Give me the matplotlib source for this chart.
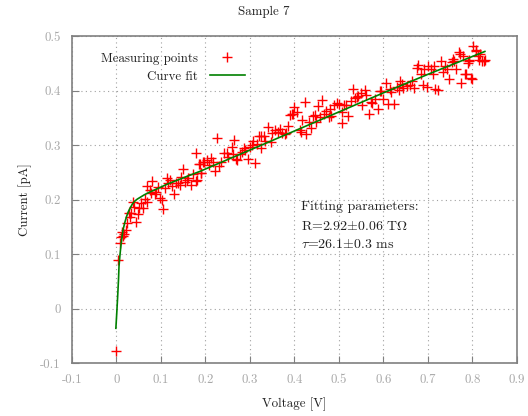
import numpy as np
import matplotlib
matplotlib.use('Agg')
import matplotlib.pyplot as plt
from matplotlib.ticker import FuncFormatter

plt.rcParams['font.family'] = ['cmr10', 'DejaVu Serif']
plt.rcParams['mathtext.fontset'] = 'cm'
plt.rcParams['axes.unicode_minus'] = False

volt = [-0.001, 0.004, 0.008, 0.010, 0.015, 0.018, 0.021, 0.025, 0.028, 0.034,
        0.040, 0.045, 0.049, 0.055, 0.060, 0.070, 0.068, 0.079, 0.081, 0.087,
        0.093, 0.098, 0.103, 0.105, 0.113, 0.116, 0.124, 0.129, 0.134, 0.143,
        0.150, 0.154, 0.161, 0.167, 0.180, 0.186, 0.191, 0.195, 0.180, 0.182,
        0.188, 0.190, 0.197, 0.203, 0.212, 0.221, 0.227, 0.230, 0.236, 0.242,
        0.248, 0.259, 0.265, 0.268, 0.272, 0.278, 0.283, 0.289, 0.295, 0.304,
        0.307, 0.311, 0.320, 0.326, 0.325, 0.334, 0.340, 0.347, 0.356, 0.364,
        0.373, 0.379, 0.390, 0.397, 0.400, 0.382, 0.395, 0.405, 0.412, 0.416,
        0.424, 0.427, 0.433, 0.437, 0.442, 0.448, 0.452, 0.457, 0.462, 0.467,
        0.472, 0.478, 0.483, 0.489, 0.495, 0.500, 0.506, 0.512, 0.517, 0.521,
        0.527, 0.532, 0.537, 0.543, 0.549, 0.552, 0.558, 0.567, 0.575, 0.581,
        0.587, 0.594, 0.600, 0.592, 0.605, 0.611, 0.617, 0.624, 0.630, 0.635,
        0.637, 0.645, 0.652, 0.660, 0.669, 0.675, 0.677, 0.684, 0.689, 0.692,
        0.697, 0.701, 0.707, 0.714, 0.717, 0.722, 0.729, 0.734, 0.738, 0.747,
        0.755, 0.757, 0.764, 0.770, 0.774, 0.779, 0.783, 0.789, 0.792, 0.798,
        0.802, 0.807, 0.812, 0.817, 0.822, 0.828, 0.808, 0.815, 0.826, 0.793,
        0.773, 0.758, 0.785, 0.796, 0.012, 0.030, 0.038, 0.052, 0.064, 0.075,
        0.090, 0.110, 0.120, 0.138, 0.146, 0.158, 0.172, 0.208, 0.218, 0.252,
        0.262, 0.286, 0.300, 0.316, 0.332, 0.350, 0.368, 0.386, 0.418, 0.446,
        0.480, 0.508, 0.540, 0.560, 0.572, 0.614, 0.642, 0.664, 0.712, 0.742]
curr = [-0.078, 0.090, 0.121, 0.132, 0.133, 0.137, 0.144, 0.157, 0.175, 0.176,
        0.187, 0.159, 0.173, 0.193, 0.184, 0.196, 0.225, 0.212, 0.234, 0.211,
        0.223, 0.204, 0.199, 0.182, 0.239, 0.230, 0.225, 0.211, 0.230, 0.227,
        0.257, 0.233, 0.239, 0.227, 0.234, 0.265, 0.249, 0.270, 0.285, 0.236,
        0.266, 0.249, 0.270, 0.273, 0.276, 0.253, 0.314, 0.261, 0.269, 0.285,
        0.286, 0.297, 0.309, 0.274, 0.273, 0.283, 0.288, 0.291, 0.274, 0.300,
        0.308, 0.268, 0.317, 0.317, 0.294, 0.308, 0.334, 0.306, 0.328, 0.324,
        0.323, 0.321, 0.355, 0.358, 0.370, 0.323, 0.358, 0.361, 0.328, 0.324,
        0.379, 0.320, 0.343, 0.332, 0.353, 0.343, 0.372, 0.352, 0.383, 0.358,
        0.363, 0.352, 0.353, 0.373, 0.378, 0.376, 0.341, 0.373, 0.373, 0.353,
        0.381, 0.404, 0.386, 0.390, 0.395, 0.373, 0.402, 0.358, 0.378, 0.384,
        0.367, 0.400, 0.384, 0.399, 0.415, 0.376, 0.397, 0.376, 0.407, 0.401,
        0.417, 0.405, 0.409, 0.411, 0.405, 0.442, 0.448, 0.430, 0.411, 0.440,
        0.407, 0.445, 0.440, 0.445, 0.403, 0.401, 0.454, 0.435, 0.445, 0.421,
        0.452, 0.458, 0.439, 0.471, 0.415, 0.464, 0.430, 0.450, 0.456, 0.422,
        0.482, 0.474, 0.464, 0.468, 0.454, 0.456, 0.473, 0.456, 0.455, 0.455,
        0.468, 0.455, 0.430, 0.424, 0.140, 0.168, 0.195, 0.185, 0.201, 0.218,
        0.214, 0.222, 0.236, 0.230, 0.242, 0.236, 0.247, 0.264, 0.270, 0.278,
        0.283, 0.294, 0.296, 0.302, 0.316, 0.322, 0.330, 0.336, 0.346, 0.356,
        0.366, 0.360, 0.388, 0.392, 0.380, 0.404, 0.412, 0.418, 0.430, 0.440]

# fitted curve
fit_v = [-0.001, 0.001, 0.003, 0.005, 0.006, 0.008, 0.010, 0.012, 0.015, 0.019,
         0.023, 0.027, 0.032, 0.036, 0.041, 0.047, 0.053, 0.063, 0.075, 0.092,
         0.113, 0.150, 0.188, 0.300, 0.400, 0.500, 0.600, 0.700, 0.828]
fit_i = [-0.036, -0.008, 0.022, 0.055, 0.077, 0.097, 0.113, 0.127, 0.144, 0.158,
         0.169, 0.178, 0.186, 0.192, 0.197, 0.201, 0.204, 0.209, 0.214, 0.220,
         0.228, 0.240, 0.252, 0.291, 0.326, 0.361, 0.396, 0.430, 0.472]

xticks = [-0.1, 0, 0.1, 0.2, 0.3, 0.4, 0.5, 0.6, 0.7, 0.8, 0.9]
yticks = [-0.1, 0, 0.1, 0.2, 0.3, 0.4, 0.5]

fig = plt.figure(figsize=(5.28, 4.16), dpi=100)
ax = fig.add_axes([0.136, 0.127, 0.843, 0.786])

ax.plot(volt, curr, '+', color='red', markersize=7.5, markeredgewidth=1.0,
        label='Measuring points', zorder=3)
ax.plot(fit_v, fit_i, '-', color='green', linewidth=1.2, label='Curve fit', zorder=4)

ax.set_xlim(-0.1, 0.9)
ax.set_ylim(-0.1, 0.5)
ax.set_xticks(xticks)
ax.set_yticks(yticks)
fmt = FuncFormatter(lambda v, p: '%g' % round(v, 2))
ax.xaxis.set_major_formatter(fmt)
ax.yaxis.set_major_formatter(fmt)
ax.tick_params(direction='in', length=5, width=0.8, color='#808080',
               labelcolor='#a8a8a8', labelsize=9.3, pad=8)
ax.grid(True, linestyle=(0, (1, 3)), color='#a0a0a0', linewidth=0.8)
for s in ax.spines.values():
    s.set_color('#808080')
    s.set_linewidth(1.2)

fig.text(0.5, 0.971, 'Sample 7', fontsize=9.3, color='#222222', ha='center', va='center')
ax.set_xlabel('Voltage [V]', fontsize=9.3, color='#222222', labelpad=8)
ax.set_ylabel('Current [pA]', fontsize=9.3, color='#222222', labelpad=6)

leg = ax.legend(loc='upper left', bbox_to_anchor=(0.04, 0.985), frameon=False,
                markerfirst=False, fontsize=9.3, handlelength=2.7,
                labelspacing=0.45, handletextpad=0.9)
for t in leg.get_texts():
    t.set_color('#222222')

tx = 0.4146
ax.text(tx, 0.186, 'Fitting parameters:', fontsize=10, color='#222222', va='center')
ax.text(tx, 0.151, r'R=2.92$\pm$0.06 T$\Omega$', fontsize=10, color='#222222', va='center')
ax.text(tx, 0.118, r'$\tau$=26.1$\pm$0.3 ms', fontsize=10, color='#222222', va='center')

fig.savefig('out.png', dpi=100)
